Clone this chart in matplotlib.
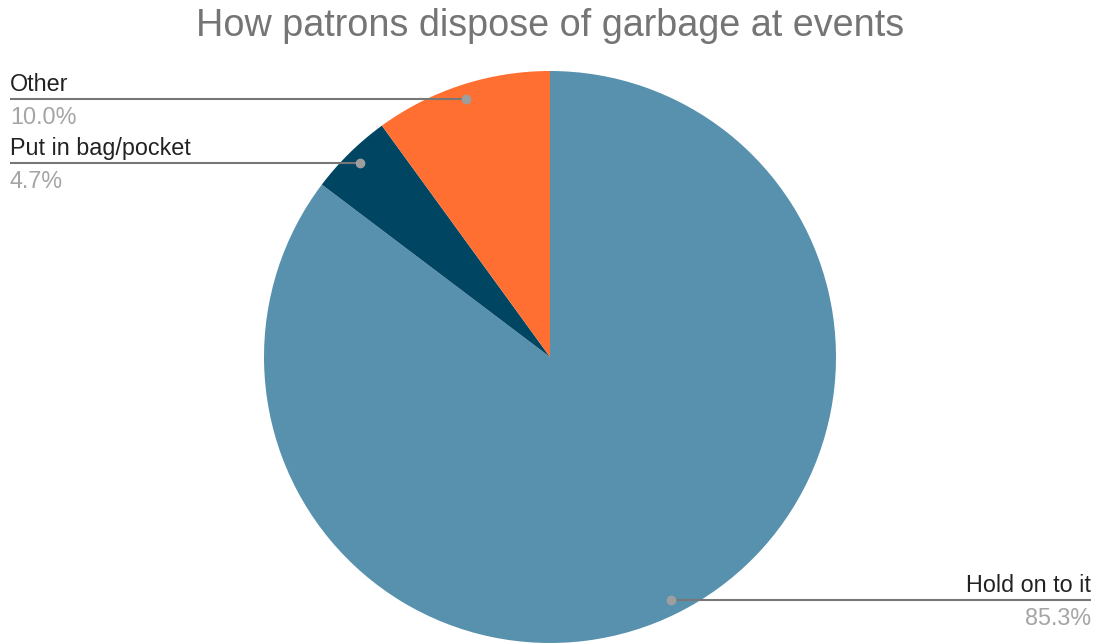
import numpy as np
import matplotlib.pyplot as plt

plt.rcParams['font.family'] = ['Liberation Sans', 'DejaVu Sans']

labels = ['Hold on to it', 'Put in bag/pocket', 'Other']
values = [85.3, 4.7, 10.0]
colors = ['#5891ad', '#004561', '#ff6f31']

W, H = 1097, 644
cx, cy, R = 550, 357, 286  # pie centre and radius in pixels

fig = plt.figure(figsize=(W / 100, H / 100), dpi=100)
ax = fig.add_axes([0, 0, 1, 1])

wedges, _ = ax.pie(values, colors=colors, startangle=90, counterclock=False,
                   radius=1.0, center=(0, 0), frame=True)
ax.set_aspect('auto')
ax.set_xlim(-cx / R, (W - cx) / R)
ax.set_ylim(-(H - cy) / R, cy / R)
ax.axis('off')

px = 1.0 / R
left_x = (10 - cx) * px
right_x = (1091 - cx) * px

for w, lab, val in zip(wedges, labels, values):
    mid = np.deg2rad((w.theta1 + w.theta2) / 2)
    x0, y0 = 0.95 * np.cos(mid), 0.95 * np.sin(mid)
    if x0 < 0:
        xe, ha = left_x, 'left'
    else:
        xe, ha = right_x, 'right'
    ax.plot([x0, xe], [y0, y0], color='#777777', lw=1.5, solid_capstyle='butt', zorder=3)
    ax.plot([x0], [y0], 'o', color='#9e9e9e', ms=6, zorder=4)
    ax.text(xe, y0 + 8 * px, lab, ha=ha, va='baseline', fontsize=16.8, color='#222222')
    ax.text(xe, y0 - 25 * px, f'{val:.1f}%', ha=ha, va='baseline', fontsize=16.8, color='#a5a5a5')

fig.text(cx / W, 1 - 26 / H, 'How patrons dispose of garbage at events',
         ha='center', va='center', fontsize=27.2, color='#757575')

fig.savefig('out.png', dpi=100, facecolor='white')
